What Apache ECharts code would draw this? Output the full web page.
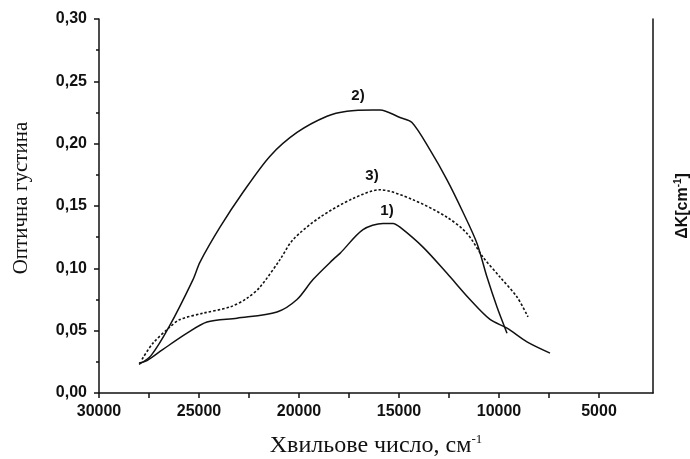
<!DOCTYPE html>
<html>
<head>
<meta charset="utf-8">
<script src="https://cdn.jsdelivr.net/npm/echarts@6/dist/echarts.min.js"></script>
<style>
  html, body { margin: 0; padding: 0; background: #fff; }
  #ech { width: 690px; height: 459px; }
</style>
</head>
<body>
<div id="ech"></div>
<script>
// хвильове число (см^-1) та оптична густина для кривих 1), 2), 3)
var curve1 = [
    [28000, 0.024], [27600, 0.026], [26800, 0.035], [25600, 0.048], [24600, 0.057],
    [23100, 0.060], [21100, 0.065], [20100, 0.075], [19300, 0.091], [18300, 0.107],
    [17950, 0.112], [16800, 0.131], [15800, 0.136], [15300, 0.136], [14950, 0.133],
    [13800, 0.117], [12600, 0.096], [11450, 0.075], [10450, 0.059], [9600, 0.052],
    [8600, 0.041], [7450, 0.032]
];
var curve2 = [
    [28000, 0.023], [27400, 0.030], [26500, 0.053], [25300, 0.091], [24950, 0.105],
    [23950, 0.133], [22800, 0.161], [21450, 0.190], [20100, 0.209], [18600, 0.222],
    [17600, 0.226], [16300, 0.227], [15950, 0.227], [14950, 0.221], [14350, 0.217],
    [13450, 0.195], [12600, 0.171], [11800, 0.145], [11100, 0.120], [10600, 0.093],
    [10100, 0.069], [9600, 0.048]
];
var curve3 = [
    [27850, 0.027], [27300, 0.040], [26450, 0.053], [25950, 0.059], [24800, 0.064],
    [23450, 0.069], [22600, 0.076], [21950, 0.085], [20950, 0.107], [20300, 0.123],
    [18950, 0.141], [17300, 0.156], [15950, 0.163], [14300, 0.155], [12600, 0.141],
    [11600, 0.128], [10800, 0.109], [9950, 0.093], [9100, 0.077], [8550, 0.061]
];
var labelPoints = [
    {name: '1)', coord: [15600, 0.146]},
    {name: '2)', coord: [17050, 0.238]},
    {name: '3)', coord: [16350, 0.174]}
];
var xLabels = [30000, 25000, 20000, 15000, 10000, 5000];
var xTicks = [30000, 27500, 25000, 22500, 20000, 17500, 15000, 12500, 10000, 7500, 5000];

var boldFont = '"Liberation Sans", Arial, sans-serif';
var serifFont = '"Liberation Serif", "Times New Roman", serif';

var myChart = echarts.init(document.getElementById('ech'));

function lineSeries(data, dotted, mark) {
    var s = {
        type: 'line',
        data: data,
        smooth: 0.3,
        showSymbol: false,
        symbol: 'none',
        lineStyle: {color: '#111', width: dotted ? 1.6 : 1.5, type: dotted ? [2.5, 2] : 'solid'}
    };
    if (mark) {
        s.markPoint = {
            symbol: 'circle',
            symbolSize: 0,
            label: {
                show: true,
                formatter: '{b}',
                color: '#111',
                fontFamily: boldFont,
                fontWeight: 'bold',
                fontSize: 15
            },
            data: [mark]
        };
    }
    return s;
}

var option = {
    backgroundColor: '#fff',
    animation: false,
    grid: {left: 99, right: 37, top: 19, bottom: 66, outerBoundsMode: 'none', containLabel: false},
    xAxis: {
        type: 'value',
        inverse: true,
        min: 2300,
        max: 30000,
        axisLine: {show: true, onZero: false, lineStyle: {color: '#111', width: 1.5}},
        axisTick: {show: true, length: 5, customValues: xTicks, lineStyle: {color: '#111', width: 1.5}},
        axisLabel: {
            customValues: xLabels,
            margin: 11,
            color: '#111',
            fontFamily: boldFont,
            fontWeight: 'bold',
            fontSize: 16,
            formatter: function (v) { return String(v); }
        },
        splitLine: {show: false},
        name: '{a|Хвильове число, см}{s|-1}',
        nameLocation: 'middle',
        nameGap: 40,
        nameTextStyle: {
            rich: {
                a: {fontFamily: serifFont, fontSize: 24, color: '#111'},
                s: {fontFamily: serifFont, fontSize: 13, color: '#111', verticalAlign: 'top', padding: [0, 0, 12, 0]}
            }
        }
    },
    yAxis: [
        {
            type: 'value',
            min: 0,
            max: 0.3,
            interval: 0.05,
            axisLine: {show: true, lineStyle: {color: '#111', width: 1.5}},
            axisTick: {show: true, length: 5, lineStyle: {color: '#111', width: 1.5}},
            minorTick: {show: true, splitNumber: 2, length: 3, lineStyle: {color: '#111', width: 1.5}},
            axisLabel: {
                margin: 12,
                color: '#111',
                fontFamily: boldFont,
                fontWeight: 'bold',
                fontSize: 16,
                formatter: function (v) { return v.toFixed(2).replace('.', ','); }
            },
            splitLine: {show: false}
        },
        {
            type: 'value',
            min: 0,
            max: 0.3,
            position: 'right',
            axisLine: {show: true, lineStyle: {color: '#111', width: 1.5}},
            axisTick: {show: false},
            axisLabel: {show: false},
            splitLine: {show: false},
            name: '{a|ΔK[cm}{s|-1}{a|]}',
            nameLocation: 'middle',
            nameGap: 20,
            nameRotate: 90,
            nameTextStyle: {
                rich: {
                    a: {fontFamily: boldFont, fontWeight: 'bold', fontSize: 16, color: '#111'},
                    s: {fontFamily: boldFont, fontWeight: 'bold', fontSize: 10, color: '#111', verticalAlign: 'top', padding: [0, 0, 9, 0]}
                }
            }
        }
    ],
    graphic: [
        {
            type: 'text',
            x: 21,
            y: 198,
            rotation: Math.PI / 2,
            style: {
                text: 'Оптична густина',
                fontFamily: serifFont,
                fontSize: 21,
                fill: '#111',
                align: 'center',
                verticalAlign: 'middle'
            }
        }
    ],
    series: [
        lineSeries(curve1, false, labelPoints[0]),
        lineSeries(curve2, false, labelPoints[1]),
        lineSeries(curve3, true, labelPoints[2])
    ]
};
myChart.setOption(option);
</script>
</body>
</html>
